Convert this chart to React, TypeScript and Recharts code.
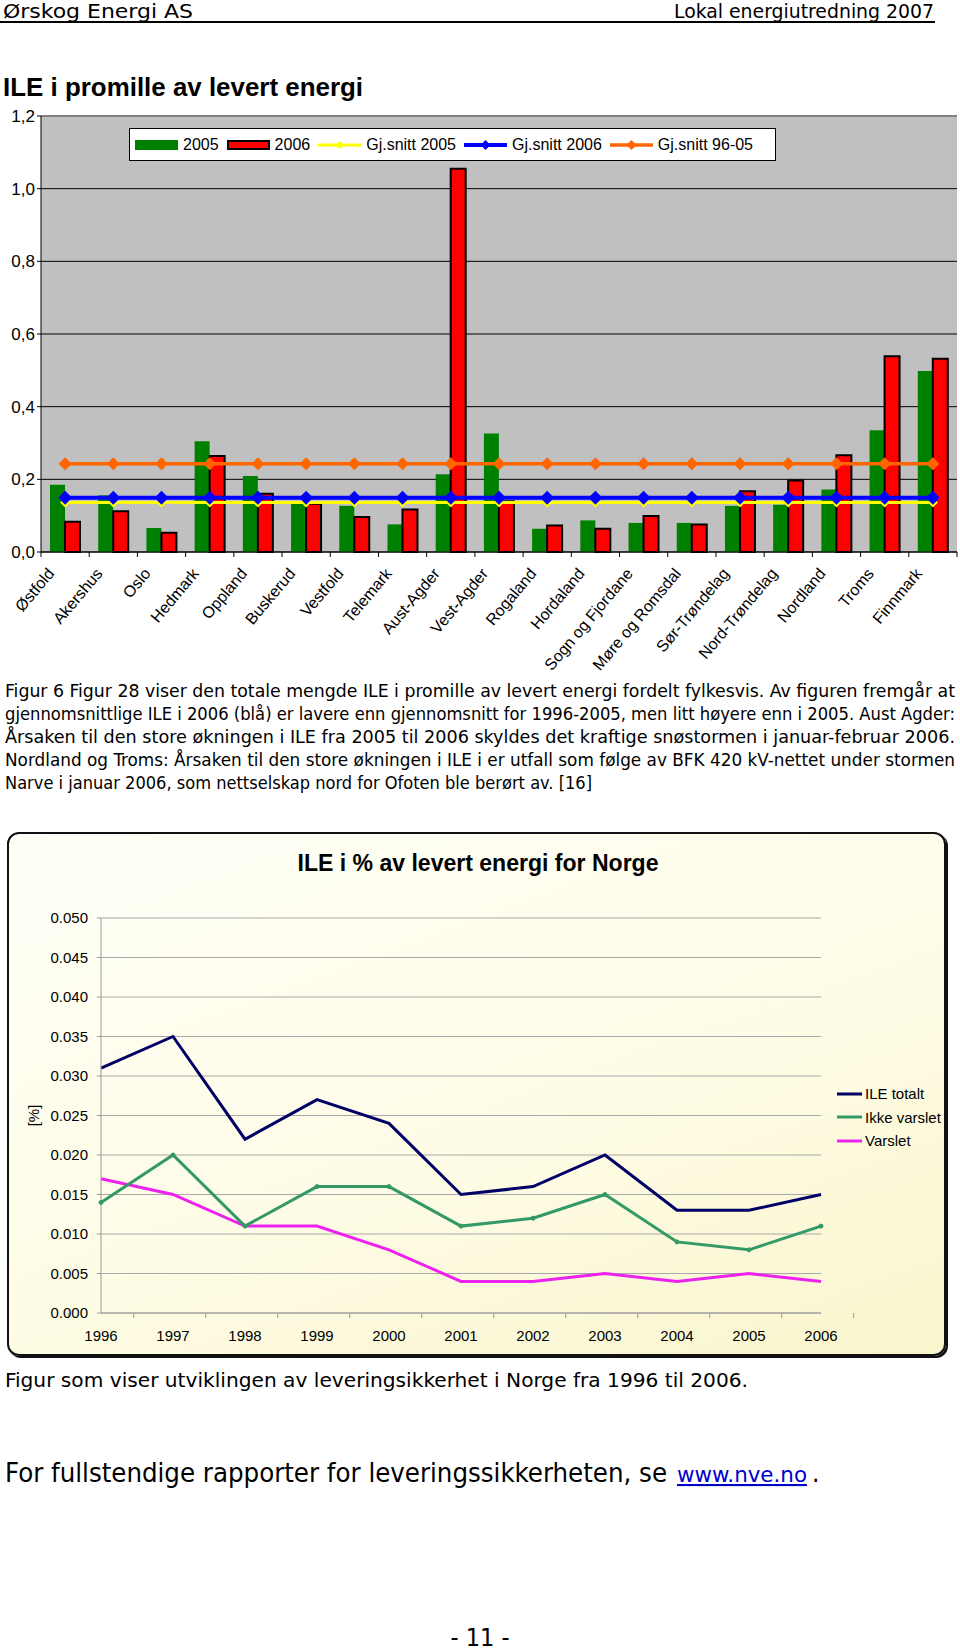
import React from 'react';
import { ComposedChart, LineChart, Bar, Line, XAxis, YAxis, CartesianGrid, Legend, ReferenceLine } from 'recharts';

// --- ILE i promille av levert energi (fylkesvis) ---
const regions = [
  'Østfold', 'Akershus', 'Oslo', 'Hedmark', 'Oppland', 'Buskerud', 'Vestfold', 'Telemark',
  'Aust-Agder', 'Vest-Agder', 'Rogaland', 'Hordaland', 'Sogn og Fjordane', 'Møre og Romsdal',
  'Sør-Trøndelag', 'Nord-Trøndelag', 'Nordland', 'Troms', 'Finnmark',
];
const ile2005 = [0.185, 0.156, 0.066, 0.305, 0.209, 0.135, 0.127, 0.076, 0.214, 0.326, 0.064, 0.087, 0.08, 0.08, 0.127, 0.13, 0.172, 0.335, 0.498];
const ile2006 = [0.083, 0.112, 0.053, 0.264, 0.16, 0.133, 0.096, 0.117, 1.055, 0.14, 0.073, 0.064, 0.099, 0.076, 0.167, 0.197, 0.266, 0.539, 0.532];
const snitt2005 = 0.136;
const snitt2006 = 0.149;
const snitt9605 = 0.243;
const promilleTicks = [0, 0.2, 0.4, 0.6, 0.8, 1.0, 1.2];

// --- ILE i % av levert energi for Norge ---
const years = ['1996', '1997', '1998', '1999', '2000', '2001', '2002', '2003', '2004', '2005', '2006'];
const ileTotalt = [0.031, 0.035, 0.022, 0.027, 0.024, 0.015, 0.016, 0.02, 0.013, 0.013, 0.015];
const ikkeVarslet = [0.014, 0.02, 0.011, 0.016, 0.016, 0.011, 0.012, 0.015, 0.009, 0.008, 0.011];
const varslet = [0.017, 0.015, 0.011, 0.011, 0.008, 0.004, 0.004, 0.005, 0.004, 0.005, 0.004];
const prosentTicks = [0, 0.005, 0.01, 0.015, 0.02, 0.025, 0.03, 0.035, 0.04, 0.045, 0.05];

const figurTekst = [
  'Figur 6 Figur 28 viser den totale mengde ILE i promille av levert energi fordelt fylkesvis. Av figuren fremgår at',
  'gjennomsnittlige ILE i 2006 (blå) er lavere enn gjennomsnitt for 1996-2005, men litt høyere enn i 2005. Aust Agder:',
  'Årsaken til den store økningen i ILE fra 2005 til 2006 skyldes det kraftige snøstormen i januar-februar 2006.',
  'Nordland og Troms: Årsaken til den store økningen i ILE i er utfall som følge av BFK 420 kV-nettet under stormen',
  'Narve i januar 2006, som nettselskap nord for Ofoten ble berørt av. [16]',
];

const fylkeData = regions.map((name, i) => ({
  name,
  v2005: ile2005[i],
  v2006: ile2006[i],
  avg05: snitt2005,
  avg06: snitt2006,
  avg9605: snitt9605,
}));

const norgeData = years.map((year, i) => ({
  year,
  totalt: ileTotalt[i],
  ikke: ikkeVarslet[i],
  varslet: varslet[i],
}));

const ARIAL = "'Liberation Sans', Arial, sans-serif";
const COMIC = "'DejaVu Sans Condensed', 'DejaVu Sans', sans-serif";

const TOP_W = 960;
const TOP_LEFT = 41;
const TOP_RIGHT = 3;
const BAND = (TOP_W - TOP_LEFT - TOP_RIGHT) / regions.length;

const BOT_LEFT = 101;
const BOT_RIGHT = 139;
const YBAND = (960 - BOT_LEFT - BOT_RIGHT) / years.length;

const Diamond = ({ cx, cy, r, fill }: any) => (
  <polygon points={`${cx},${cy - r} ${cx + r},${cy} ${cx},${cy + r} ${cx - r},${cy}`} fill={fill} />
);

const lineMarks: Record<string, { color: string; r: number; w: number }> = {
  avg05: { color: '#ffff00', r: 4, w: 3 },
  avg06: { color: '#0000ff', r: 5, w: 4 },
  avg9605: { color: '#ff6600', r: 5, w: 3.5 },
};

const RegionTick = ({ x, y, payload, index }: any) => (
  <g>
    {index === 0 && <line x1={x - BAND / 2} y1={y} x2={x - BAND / 2} y2={y + 5} stroke="#000" />}
    <line x1={x + BAND / 2} y1={y} x2={x + BAND / 2} y2={y + 5} stroke="#000" />
    <text
      x={x - 10}
      y={y + 22}
      transform={`rotate(-50, ${x - 10}, ${y + 22})`}
      textAnchor="end"
      fontSize={16}
      fontFamily={ARIAL}
      fill="#000"
    >
      {payload.value}
    </text>
  </g>
);

const YearTick = ({ x, y, payload, index }: any) => (
  <g>
    {index === 0 && <line x1={x - YBAND / 2} y1={y} x2={x - YBAND / 2} y2={y + 5} stroke="#9a9a9a" />}
    <line x1={x + YBAND / 2} y1={y} x2={x + YBAND / 2} y2={y + 5} stroke="#9a9a9a" />
    <text x={x} y={y + 28} textAnchor="middle" fontSize={15} fontFamily={ARIAL} fill="#000">
      {payload.value}
    </text>
  </g>
);

const TopLegend = ({ payload }: any) => (
  <div
    style={{
      display: 'flex',
      alignItems: 'center',
      height: 33,
      boxSizing: 'border-box',
      border: '1px solid #000',
      background: '#fff',
      paddingLeft: 5,
      fontFamily: ARIAL,
      fontSize: 16,
      color: '#000',
    }}
  >
    {(payload || []).map((entry: any) => {
      const mark = lineMarks[entry.dataKey];
      return (
        <div key={entry.value} style={{ display: 'flex', alignItems: 'center', marginRight: 8 }}>
          {mark ? (
            <svg width={43} height={14} style={{ marginRight: 5 }}>
              <line x1={0} y1={7} x2={43} y2={7} stroke={mark.color} strokeWidth={mark.w} />
              <Diamond cx={21.5} cy={7} r={mark.r} fill={mark.color} />
            </svg>
          ) : (
            <div
              style={{
                width: 43,
                height: 10,
                marginRight: 5,
                boxSizing: 'border-box',
                background: entry.color,
                border: entry.dataKey === 'v2006' ? '2px solid #000' : 'none',
              }}
            />
          )}
          <span>{entry.value}</span>
        </div>
      );
    })}
  </div>
);

const BottomLegend = ({ payload }: any) => (
  <div style={{ fontFamily: ARIAL, fontSize: 15, color: '#000' }}>
    {(payload || []).map((entry: any) => (
      <div key={entry.value} style={{ display: 'flex', alignItems: 'center', height: 23.5 }}>
        <svg width={26} height={10} style={{ marginRight: 2 }}>
          <line x1={0} y1={5} x2={25} y2={5} stroke={entry.color} strokeWidth={3} />
        </svg>
        <span>{entry.value}</span>
      </div>
    ))}
  </div>
);

const T = ({ x, y, w, size, bold, family, anchor, fill, children, style }: any) => (
  <text
    x={x}
    y={y}
    fontSize={size}
    fontWeight={bold ? 'bold' : 'normal'}
    fontFamily={family || COMIC}
    textAnchor={anchor || 'start'}
    textLength={w}
    lengthAdjust="spacingAndGlyphs"
    fill={fill || '#000'}
    style={style}
  >
    {children}
  </text>
);

export default function App() {
  return (
    <div style={{ position: 'absolute', left: 0, top: 0, width: 960, height: 1651, background: '#fff', overflow: 'hidden' }}>
      {/* rounded frame of the Norway chart */}
      <div
        style={{
          position: 'absolute',
          left: 7,
          top: 832,
          width: 939,
          height: 524,
          boxSizing: 'border-box',
          border: '2px solid #111',
          borderRadius: 12,
          boxShadow: '2px 2px 0 #111',
          background: 'linear-gradient(160deg, #fffff8 0%, #fefce6 55%, #f9f5cc 100%)',
        }}
      />

      <svg width={960} height={1651} style={{ position: 'absolute', left: 0, top: 0 }}>
        <T x={3} y={18} w={190} size={20}>Ørskog Energi AS</T>
        <T x={934} y={18} w={260} size={20} anchor="end">Lokal energiutredning 2007</T>
        <rect x={0} y={21} width={935} height={2} fill="#000" />

        <T x={3} y={96} w={360} size={26} bold family={ARIAL}>ILE i promille av levert energi</T>

        {figurTekst.map((line, i) => (
          <T key={i} x={5} y={697 + i * 23} w={i < 4 ? 950 : 587} size={17}>
            {line}
          </T>
        ))}

        <T x={478} y={871} w={361} size={23} bold family={ARIAL} anchor="middle">
          ILE i % av levert energi for Norge
        </T>

        <T x={5} y={1387} w={743} size={20}>Figur som viser utviklingen av leveringsikkerhet i Norge fra 1996 til 2006.</T>
        <T x={5} y={1482} w={662} size={26}>For fullstendige rapporter for leveringssikkerheten, se</T>
        <T x={677} y={1482} w={130} size={21} fill="#0000cc" style={{ textDecoration: 'underline' }}>www.nve.no</T>
        <text x={812} y={1482} fontSize={26} fontFamily={COMIC} fill="#000">.</text>
        <T x={480} y={1646} w={59} size={24} anchor="middle">- 11 -</T>
      </svg>

      <div style={{ position: 'absolute', left: 0, top: 0 }}>
        <ComposedChart
          width={TOP_W}
          height={680}
          data={fylkeData}
          margin={{ top: 116, right: TOP_RIGHT, left: 0, bottom: 0 }}
          barGap={0}
        >
          <CartesianGrid
            fill="#c0c0c0"
            stroke="#000"
            vertical={false}
            strokeWidth={1}
          />
          <ReferenceLine y={1.2} stroke="#808080" strokeWidth={2} />
          <XAxis
            dataKey="name"
            interval={0}
            height={128}
            axisLine={{ stroke: '#000' }}
            tickLine={false}
            tickSize={0}
            tickMargin={0}
            tick={(p: any) => <RegionTick {...p} />}
          />
          <YAxis
            domain={[0, 1.2]}
            ticks={promilleTicks}
            width={TOP_LEFT}
            axisLine={{ stroke: '#000' }}
            tickLine={{ stroke: '#000' }}
            tickSize={4}
            tickMargin={2}
            tickFormatter={(v: number) => v.toFixed(1).replace('.', ',')}
            tick={{ fill: '#000', fontSize: 17, fontFamily: ARIAL }}
          />
          <Legend
            layout="horizontal"
            align="center"
            verticalAlign="middle"
            wrapperStyle={{ left: 129, top: 128, width: 647, height: 33 }}
            content={(p: any) => <TopLegend {...p} />}
          />
          <Bar dataKey="v2005" name="2005" fill="#008000" barSize={15} isAnimationActive={false} />
          <Bar dataKey="v2006" name="2006" fill="#ff0000" stroke="#000" strokeWidth={2} barSize={15} isAnimationActive={false} />
          <Line
            dataKey="avg05"
            name="Gj.snitt 2005"
            stroke="#ffff00"
            strokeWidth={3}
            dot={(p: any) => <Diamond key={p.index} cx={p.cx} cy={p.cy} r={5} fill="#ffff00" />}
            isAnimationActive={false}
          />
          <Line
            dataKey="avg06"
            name="Gj.snitt 2006"
            stroke="#0000ff"
            strokeWidth={4}
            dot={(p: any) => <Diamond key={p.index} cx={p.cx} cy={p.cy} r={7} fill="#0000ff" />}
            isAnimationActive={false}
          />
          <Line
            dataKey="avg9605"
            name="Gj.snitt 96-05"
            stroke="#ff6600"
            strokeWidth={3.5}
            dot={(p: any) => <Diamond key={p.index} cx={p.cx} cy={p.cy} r={6.5} fill="#ff6600" />}
            isAnimationActive={false}
          />
        </ComposedChart>
      </div>

      <div style={{ position: 'absolute', left: 0, top: 830 }}>
        <LineChart
          width={960}
          height={520}
          data={norgeData}
          margin={{ top: 88, right: BOT_RIGHT, left: 0, bottom: 0 }}
        >
          <CartesianGrid stroke="#a8a8a8" vertical={false} />
          <XAxis
            dataKey="year"
            interval={0}
            height={37}
            axisLine={{ stroke: '#9a9a9a' }}
            tickLine={false}
            tickSize={0}
            tickMargin={0}
            tick={(p: any) => <YearTick {...p} />}
          />
          <YAxis
            domain={[0, 0.05]}
            ticks={prosentTicks}
            width={BOT_LEFT}
            axisLine={{ stroke: '#9a9a9a' }}
            tickLine={{ stroke: '#9a9a9a' }}
            tickSize={4}
            tickMargin={9}
            tickFormatter={(v: number) => v.toFixed(3)}
            tick={{ fill: '#000', fontSize: 15, fontFamily: ARIAL }}
            label={{
              content: ({ viewBox }: any) => {
                const lx = viewBox.x + 33;
                const ly = viewBox.y + viewBox.height / 2;
                return (
                  <text
                    x={lx}
                    y={ly}
                    transform={`rotate(-90, ${lx}, ${ly})`}
                    textAnchor="middle"
                    dominantBaseline="central"
                    fontSize={15}
                    fontFamily={ARIAL}
                    fill="#000"
                  >
                    [%]
                  </text>
                );
              },
            }}
          />
          <Legend
            layout="horizontal"
            align="center"
            verticalAlign="middle"
            wrapperStyle={{ left: 837, top: 252, width: 110 }}
            content={(p: any) => <BottomLegend {...p} />}
          />
          <Line dataKey="varslet" name="Varslet" stroke="#ee22ee" strokeWidth={3} dot={false} isAnimationActive={false} />
          <Line
            dataKey="ikke"
            name="Ikke varslet"
            stroke="#339966"
            strokeWidth={3}
            dot={{ r: 2, fill: '#339966', stroke: '#339966', strokeWidth: 1 }}
            isAnimationActive={false}
          />
          <Line dataKey="totalt" name="ILE totalt" stroke="#000066" strokeWidth={3} dot={false} isAnimationActive={false} />
        </LineChart>
      </div>
    </div>
  );
}
